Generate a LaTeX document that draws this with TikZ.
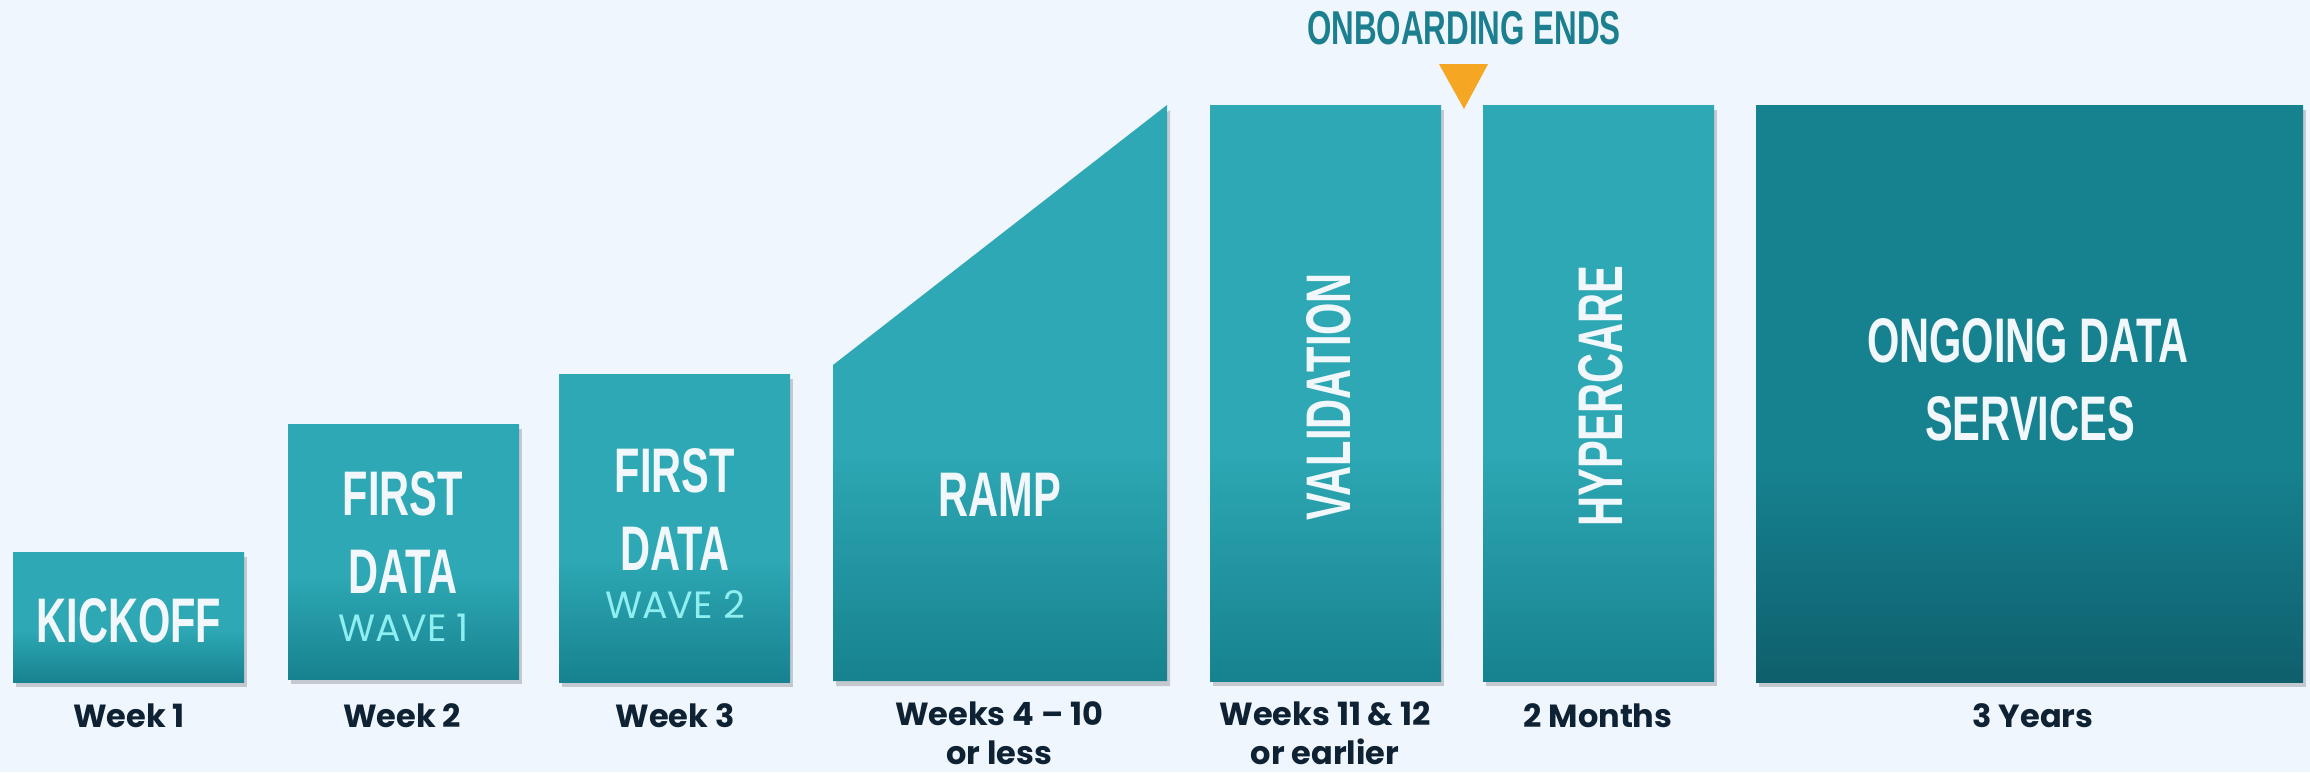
\documentclass[tikz,border=0pt]{standalone}
\usepackage{fontspec}
\setmainfont{Poppins}
\newfontfamily\condfont[FakeStretch=0.66]{Liberation Sans}
\newfontfamily\labfont{Poppins}
\usetikzlibrary{shadows}
\definecolor{bg}{HTML}{EFF6FD}
\definecolor{boxtop}{HTML}{2DA8B4}
\definecolor{boxbot}{HTML}{17828F}
\definecolor{ongtop}{HTML}{168290}
\definecolor{ongbot}{HTML}{0F5F6C}
\definecolor{boxtext}{HTML}{F2F7FB}
\definecolor{wavetext}{HTML}{8EEEF0}
\definecolor{labtext}{HTML}{0E2233}
\definecolor{endtext}{HTML}{1B7F8F}
\definecolor{marker}{HTML}{F5A623}
\pgfdeclareverticalshading{phaseshade}{100bp}{color(0bp)=(boxbot); color(25bp)=(boxbot); color(45bp)=(boxtop); color(100bp)=(boxtop)}
\pgfdeclareverticalshading{ongshade}{100bp}{color(0bp)=(ongbot); color(25bp)=(ongbot); color(44bp)=(ongtop); color(100bp)=(ongtop)}
\tikzset{
  boxshadow/.style={drop shadow={shadow xshift=3pt, shadow yshift=-5pt, opacity=0.18, fill=black}},
  phase/.style={rectangle, inner sep=0pt, outer sep=0pt, shade, shading=phaseshade, boxshadow},
  big/.style={font=\condfont\bfseries\fontsize{63}{77}\selectfont, text=boxtext, inner sep=0pt, anchor=base},
  wave/.style={font=\labfont\fontsize{38}{46}\selectfont, text=wavetext, inner sep=0pt, anchor=base},
  lab/.style={font=\labfont\bfseries\fontsize{32}{39}\selectfont, text=labtext, inner sep=0pt, anchor=base, align=center},
}
\begin{document}
\begin{tikzpicture}[x=1pt, y=-1pt]
\useasboundingbox (0,0) rectangle (2310,772);
\fill[bg] (0,0) rectangle (2310,772);

% boxes
\node[phase, minimum width=231pt, minimum height=130pt, anchor=north west] (kick) at (13,552) {};
\node[phase, minimum width=231pt, minimum height=255pt, anchor=north west] (wave1) at (288,424) {};
\node[phase, minimum width=231pt, minimum height=308pt, anchor=north west] (wave2) at (559,374) {};
\path[shade, shading=phaseshade, boxshadow] (833,365) -- (1167,105) -- (1167,681) -- (833,681) -- cycle;
\node[phase, minimum width=231pt, minimum height=576pt, anchor=north west] (valid) at (1210,105) {};
\node[phase, minimum width=231pt, minimum height=576pt, anchor=north west] (hyper) at (1483,105) {};
\node[rectangle, inner sep=0pt, outer sep=0pt, shade, shading=ongshade, boxshadow, minimum width=547pt, minimum height=577pt, anchor=north west] (ongoing) at (1756,105) {};

% marker
\fill[marker] (1439,64) -- (1488,64) -- (1464,109) -- cycle;
\node[font=\condfont\bfseries\fontsize{47.5}{56}\selectfont, text=endtext, inner sep=0pt, anchor=base] (ends) at (1464,44) {ONBOARDING ENDS};

% box texts
\node[big] (kicktxt) at (129,642) {KICKOFF};
\node[big] (w1a) at (403,515) {FIRST};
\node[big] (w1b) at (403,593) {DATA};
\node[wave] (w1c) at (404,641) {WAVE 1};
\node[big] (w2a) at (675,492) {FIRST};
\node[big] (w2b) at (675,570) {DATA};
\node[wave] (w2c) at (675,618) {WAVE 2};
\node[big] (ramptxt) at (1000,516) {RAMP};
\node[big, rotate=90, anchor=center] (validtxt) at (1329,397) {VALIDATION};
\node[big, rotate=90, anchor=center] (hypertxt) at (1601,396) {HYPERCARE};
\node[big] (onga) at (2028,362) {ONGOING DATA};
\node[big] (ongb) at (2030,440) {SERVICES};

% bottom labels
\node[lab] (l1) at (129,727) {Week 1};
\node[lab] (l2) at (402,727) {Week 2};
\node[lab] (l3) at (675,727) {Week 3};
\node[lab] (l4) at (999,764) {Weeks 4 – 10\\or less};
\node[lab] (l5) at (1325,764) {Weeks 11 \& 12\\or earlier};
\node[lab] (l6) at (1598,727) {2 Months};
\node[lab] (l7) at (2033,727) {3 Years};
\end{tikzpicture}
\end{document}
